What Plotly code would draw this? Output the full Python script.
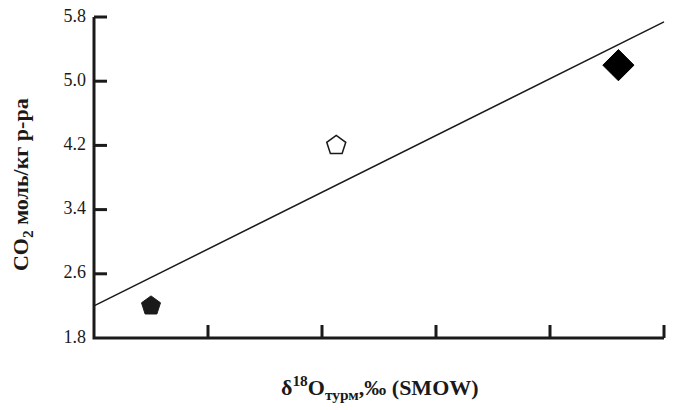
import plotly.graph_objects as go

# Data
pent_filled_x = [5.0]
pent_filled_y = [2.2]
pent_open_x = [8.25]
pent_open_y = [4.2]
diamond_x = [13.2]
diamond_y = [5.2]
trend_x = [4, 14]
trend_y = [2.2, 5.74]

x_ticks = [4, 6, 8, 10, 12, 14]
x_tick_labels = ["4", "6", "8", "10", "12", "14"]
y_ticks = [1.8, 2.6, 3.4, 4.2, 5.0, 5.8]
y_tick_labels = ["1.8", "2.6", "3.4", "4.2", "5.0", "5.8"]

x_range = [4, 14]
y_range = [1.8, 5.8]

ink = "#1a1a1a"
font_family = "Liberation Serif"

W, H = 675, 410
pad = 8  # px of space kept between the axis lines and the plot-area edge
M = dict(l=94 - pad, r=11 - pad, t=17 - pad, b=72 - pad)
px_per_x = (W - 94 - 11) / (x_range[1] - x_range[0])
px_per_y = (H - 17 - 72) / (y_range[1] - y_range[0])
view_x = [x_range[0] - pad / px_per_x, x_range[1] + pad / px_per_x]
view_y = [y_range[0] - pad / px_per_y, y_range[1] + pad / px_per_y]
tick_px = 13

fig = go.Figure()

# axis lines (left and bottom)
fig.add_trace(go.Scatter(x=[x_range[0], x_range[0], x_range[1]],
                         y=[y_range[1], y_range[0], y_range[0]], mode="lines",
                         line=dict(color=ink, width=3), cliponaxis=False,
                         showlegend=False, hoverinfo="skip"))
# inside ticks
tx, ty = [], []
for xv in x_ticks[1:]:
    tx += [xv, xv, None]
    ty += [y_range[0], y_range[0] + tick_px / px_per_y, None]
for yv in y_ticks[1:]:
    tx += [x_range[0], x_range[0] + tick_px / px_per_x, None]
    ty += [yv, yv, None]
fig.add_trace(go.Scatter(x=tx, y=ty, mode="lines", line=dict(color=ink, width=3),
                         cliponaxis=False, showlegend=False, hoverinfo="skip"))

# tick labels
fig.add_trace(go.Scatter(x=x_ticks, y=[y_range[0] - 14 / px_per_y] * len(x_ticks),
                         mode="text", text=x_tick_labels, textposition="middle center",
                         textfont=dict(family=font_family, size=18, color=ink),
                         cliponaxis=False, showlegend=False, hoverinfo="skip"))
fig.add_trace(go.Scatter(x=[x_range[0] - 8 / px_per_x] * len(y_ticks), y=y_ticks,
                         mode="text", text=y_tick_labels, textposition="middle left",
                         textfont=dict(family=font_family, size=18, color=ink),
                         cliponaxis=False, showlegend=False, hoverinfo="skip"))

fig.add_trace(go.Scatter(x=trend_x, y=trend_y, mode="lines",
                         line=dict(color=ink, width=1.5), showlegend=False))
fig.add_trace(go.Scatter(x=pent_filled_x, y=pent_filled_y, mode="markers",
                         marker=dict(symbol="pentagon", size=20, color=ink,
                                     line=dict(color=ink, width=1)), showlegend=False))
fig.add_trace(go.Scatter(x=pent_open_x, y=pent_open_y, mode="markers",
                         marker=dict(symbol="pentagon-open", size=20, color=ink,
                                     line=dict(color=ink, width=1.5)), showlegend=False))
fig.add_trace(go.Scatter(x=diamond_x, y=diamond_y, mode="markers",
                         marker=dict(symbol="diamond", size=24, color="black",
                                     line=dict(color="black", width=1)), showlegend=False))

fig.update_layout(
    width=W, height=H,
    margin=M,
    paper_bgcolor="white", plot_bgcolor="white",
    font=dict(family=font_family, color=ink, size=16),
    annotations=[
        dict(text="<b>δ<sup>18</sup>O<sub>турм</sub>,‰ (SMOW)</b>", xref="paper", yref="paper",
             x=0.5017, y=-0.1246, xanchor="center", yanchor="middle", showarrow=False,
             font=dict(family=font_family, size=22, color=ink)),
        dict(text="<b>CO<sub>2</sub> моль/кг р-ра</b>", xref="paper", yref="paper",
             x=-0.1092, y=0.4777, xanchor="center", yanchor="middle", showarrow=False,
             textangle=-90, font=dict(family=font_family, size=22, color=ink)),
    ],
)
fig.update_xaxes(range=view_x, showticklabels=False, ticks="", showline=False,
                 showgrid=False, zeroline=False, automargin=False)
fig.update_yaxes(range=view_y, showticklabels=False, ticks="", showline=False,
                 showgrid=False, zeroline=False, automargin=False)

fig.write_html("out.html", config={"staticPlot": True, "displayModeBar": False},
               post_script="document.body.style.margin='0';")
